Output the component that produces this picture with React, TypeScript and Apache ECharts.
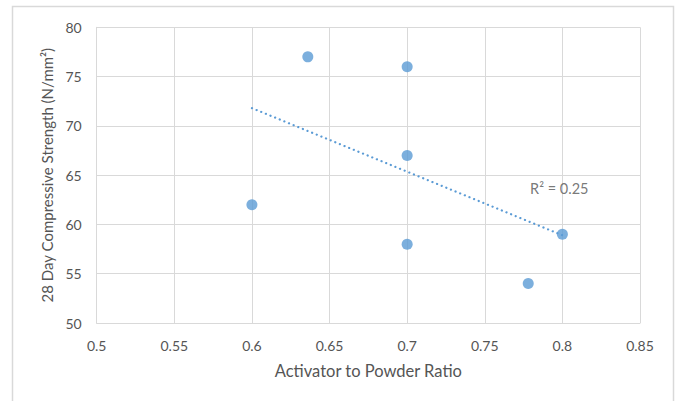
import React, { useEffect, useRef } from "react";
import * as echarts from "echarts";

const xTicks = { min: 0.5, max: 0.85, interval: 0.05 };
const yTicks = { min: 50, max: 80, interval: 5 };
const ratioValues = [0.6, 0.636, 0.7, 0.7, 0.7, 0.8, 0.778];
const strengthValues = [62, 77, 76, 67, 58, 59, 54];
const trendX = [0.6, 0.8];
const trendY = [71.8, 58.9];
const r2Label = "R² = 0.25";
const r2Pos = [0.798, 63.6];
const xTitle = "Activator to Powder Ratio";
const yTitle = "28 Day Compressive Strength (N/mm²)";

const FONT = "Lato, 'Open Sans', sans-serif";
const TEXT = "#555555";
const GRID = "#d9d9d9";
const BLUE = "#5b9bd5";

export default function App() {
  const ref = useRef<HTMLDivElement>(null);
  useEffect(() => {
    document.body.style.margin = "0";
    if (!ref.current) return;
    const chart = echarts.init(ref.current, null, { renderer: "svg" });
    chart.setOption({
      animation: false,
      backgroundColor: "#ffffff",
      textStyle: { fontFamily: FONT },
      graphic: [
        {
          type: "rect",
          shape: { x: 12.5, y: 6.5, width: 661, height: 420 },
          style: { fill: "none", stroke: GRID, lineWidth: 1.5 },
          silent: true,
        },
      ],
      grid: { left: 96.7, right: 38, top: 27.3, bottom: 78 },
      xAxis: {
        type: "value",
        min: xTicks.min,
        max: xTicks.max,
        interval: xTicks.interval,
        name: xTitle,
        nameLocation: "middle",
        nameGap: 39,
        nameTextStyle: { color: TEXT, fontSize: 16.5, fontFamily: FONT },
        axisLine: { show: true, lineStyle: { color: GRID } },
        axisTick: { show: false },
        splitLine: { show: true, lineStyle: { color: GRID } },
        axisLabel: {
          color: TEXT,
          fontSize: 14,
          fontFamily: FONT,
          margin: 15,
          formatter: (v: number) => String(Math.round(v * 100) / 100),
        },
      },
      yAxis: {
        type: "value",
        min: yTicks.min,
        max: yTicks.max,
        interval: yTicks.interval,
        name: yTitle,
        nameLocation: "middle",
        nameGap: 42,
        nameTextStyle: { color: TEXT, fontSize: 15, fontFamily: FONT },
        axisLine: { show: true, lineStyle: { color: GRID } },
        axisTick: { show: false },
        splitLine: { show: true, lineStyle: { color: GRID } },
        axisLabel: { color: TEXT, fontSize: 14, fontFamily: FONT, margin: 15 },
      },
      series: [
        {
          type: "line",
          data: trendX.map((x, i) => [x, trendY[i]]),
          symbol: "none",
          lineStyle: { color: BLUE, width: 2.2, type: [0.1, 4.9], cap: "round" },
          silent: true,
          z: 2,
        },
        {
          type: "scatter",
          data: ratioValues.map((x, i) => [x, strengthValues[i]]),
          symbolSize: 11,
          itemStyle: { color: BLUE },
          z: 3,
        },
        {
          type: "scatter",
          data: [r2Pos],
          symbolSize: 0,
          silent: true,
          label: {
            show: true,
            position: "inside",
            formatter: r2Label,
            color: TEXT,
            fontSize: 14.5,
            fontFamily: FONT,
          },
        },
      ],
    });
    return () => chart.dispose();
  }, []);
  return <div ref={ref} style={{ width: 678, height: 401 }} />;
}
